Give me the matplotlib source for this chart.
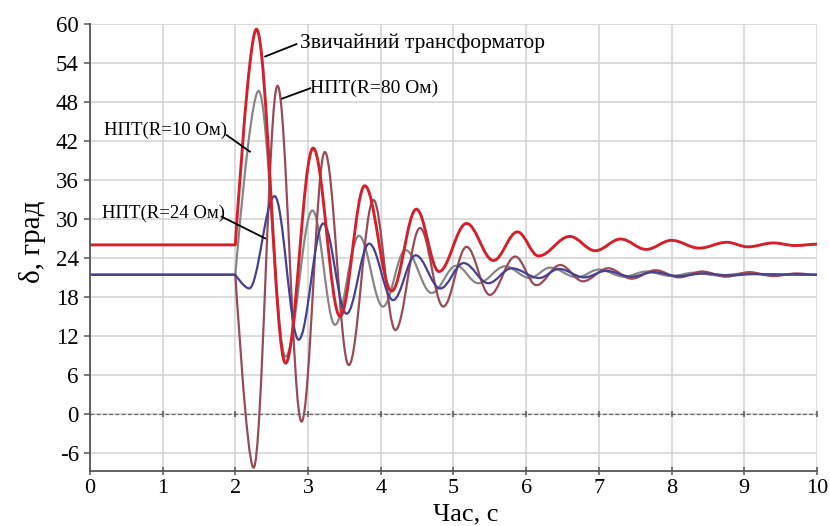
import matplotlib
matplotlib.use('Agg')
import matplotlib.pyplot as plt
from matplotlib.path import Path
from matplotlib.patches import PathPatch

# Rotor angle swing after the disturbance at t = 2 s: times of the turning
# points (s) and the angle there (deg); first two points are the steady state.
red_t = [0, 2.0, 2.29, 2.69, 3.07, 3.44, 3.78, 4.15, 4.49, 4.80, 5.18, 5.55,
         5.88, 6.17, 6.60, 6.95, 7.30, 7.65, 8.00, 8.38, 8.76, 9.05, 9.40,
         9.70, 10.0]
red_v = [26.0, 26.0, 59.2, 7.8, 40.9, 15.0, 35.1, 18.9, 31.5, 21.9, 29.3, 23.6,
         28.0, 24.3, 27.3, 25.1, 26.9, 25.3, 26.7, 25.5, 26.4, 25.7, 26.3,
         25.9, 26.1]

gray_t = [0, 2.0, 2.32, 2.69, 3.06, 3.37, 3.70, 4.03, 4.34, 4.70, 5.04, 5.34,
          5.71, 6.05, 6.33, 6.70, 7.00, 7.35, 7.65, 8.00, 8.30, 8.65, 9.00,
          9.35, 10.0]
gray_v = [21.4, 21.4, 49.7, 8.8, 31.3, 13.7, 27.4, 16.5, 25.2, 18.6, 22.8, 20.1,
          22.7, 20.9, 22.5, 21.0, 22.2, 21.1, 21.9, 21.2, 21.7, 21.3, 21.6,
          21.4, 21.4]

brown_t = [0, 2.0, 2.25, 2.58, 2.91, 3.23, 3.56, 3.90, 4.20, 4.54, 4.86, 5.18,
           5.50, 5.85, 6.14, 6.47, 6.78, 7.13, 7.45, 7.78, 8.10, 8.42, 8.75,
           9.07, 9.40, 9.72, 10.0]
brown_v = [21.4, 21.4, -8.3, 50.5, -1.2, 40.3, 7.5, 32.9, 12.9, 28.6, 16.5, 25.7,
           18.3, 24.2, 19.8, 22.9, 20.4, 22.4, 20.8, 22.1, 21.0, 21.9, 21.1,
           21.8, 21.2, 21.6, 21.4]

blue_t = [0, 2.0, 2.19, 2.54, 2.87, 3.21, 3.53, 3.84, 4.17, 4.48, 4.82, 5.14,
          5.48, 5.80, 6.18, 6.45, 6.80, 7.10, 7.45, 7.75, 8.10, 8.45, 8.80,
          9.15, 10.0]
blue_v = [21.4, 21.4, 19.3, 33.5, 11.4, 29.3, 15.4, 26.2, 17.5, 24.4, 19.3, 23.2,
          20.1, 22.4, 20.9, 22.3, 21.0, 22.0, 21.1, 21.8, 21.2, 21.6, 21.3,
          21.5, 21.4]

x_ticks = list(range(0, 11))
y_ticks = list(range(-6, 61, 6))

plt.rcParams['font.family'] = ['Liberation Serif', 'DejaVu Serif']
plt.rcParams['axes.unicode_minus'] = False


def swing_path(t, v, k=0.36):
    '''Flat line up to t[1], then smooth swings through the turning points.'''
    verts = [(t[0], v[0]), (t[1], v[1])]
    codes = [Path.MOVETO, Path.LINETO]
    for i in range(1, len(t) - 1):
        t0, t1 = t[i], t[i + 1]
        dt = t1 - t0
        # the swing leaves the steady state with a kink, later turns are flat
        lead = 0 if i == 1 else k * dt
        verts += [(t0 + lead, v[i]), (t1 - k * dt, v[i + 1]), (t1, v[i + 1])]
        codes += [Path.CURVE4] * 3
    return Path(verts, codes)


fig = plt.figure(figsize=(8.3, 5.26), dpi=100)
ax = fig.add_axes([0.1084, 0.1046, 0.8759, 0.8498])
ax.set_xlim(0, 10)
ax.set_ylim(-8.8, 60)

ax.set_xticks(x_ticks)
ax.set_yticks(y_ticks)
ax.grid(True, color='#d2d2d2', lw=1.1)
ax.set_axisbelow(True)
for side in ('top', 'right'):
    ax.spines[side].set_visible(False)
for side in ('left', 'bottom'):
    ax.spines[side].set_color('#555555')
    ax.spines[side].set_linewidth(1.3)
ax.tick_params(axis='y', direction='out', length=4, width=1.1,
               color='#555555', labelsize=16.5, pad=4)
ax.tick_params(axis='x', direction='inout', length=6, width=1.1,
               color='#555555', labelsize=16, pad=3)

# zero line with its own tick marks
ax.axhline(0, color='#666666', lw=0.9, ls=(0, (3, 2)))
ax.plot(x_ticks, [0] * len(x_ticks), ls='none', marker='|', ms=5,
        mew=1.1, color='#555555')

series = [
    (gray_t, gray_v, '#868686', 1.6),
    (brown_t, brown_v, '#984a57', 1.6),
    (blue_t, blue_v, '#45408f', 1.6),
    (red_t, red_v, '#d4202a', 2.1),
]
for t, v, color, lw in series:
    ax.add_patch(PathPatch(swing_path(t, v), fill=False, edgecolor=color,
                           lw=lw, capstyle='round', joinstyle='round'))

# labels with leader lines
ax.plot([2.41, 2.84], [55.0, 56.9], color='k', lw=1.3)
ax.text(2.89, 57.0, 'Звичайний трансформатор', fontsize=15.5,
        ha='left', va='center')
ax.plot([2.64, 3.03], [48.5, 50.1], color='k', lw=1.3)
ax.text(3.03, 50.1, 'НПТ(R=80 Ом)', fontsize=14,
        ha='left', va='center')
ax.plot([1.88, 2.20], [42.9, 40.35], color='k', lw=1.3)
ax.text(1.89, 43.7, 'НПТ(R=10 Ом)', fontsize=13.5,
        ha='right', va='center')
ax.plot([1.81, 2.41], [30.35, 27.0], color='k', lw=1.3)
ax.text(1.86, 30.9, 'НПТ(R=24 Ом)', fontsize=13.5,
        ha='right', va='center')

fig.text(0.039, 0.54, 'δ, град', rotation=90, fontsize=21,
         ha='center', va='center')
fig.text(0.561, 0.022, 'Час, с', fontsize=19, ha='center', va='center')

fig.savefig('out.png', dpi=100)
